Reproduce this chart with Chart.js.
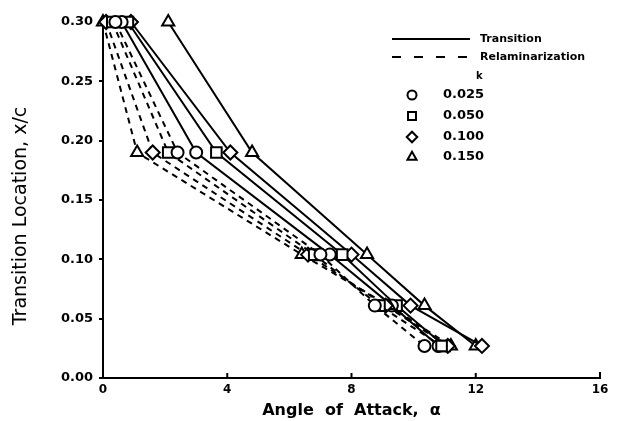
<!DOCTYPE html>
<html>
<head>
<meta charset="utf-8">
<script src="https://cdn.jsdelivr.net/npm/chart.js@4"></script>
<style>
  html, body { margin: 0; padding: 0; background: #fff; }
  #wrap { width: 619px; height: 421px; }
</style>
</head>
<body>
<div id="wrap"><canvas id="chart" width="619" height="421"></canvas></div>
<script>
// ── DATA ──
// sensor positions (x/c) where transition / relaminarization was picked up
const yLevels = [0.30, 0.19, 0.104, 0.061, 0.027];

// angle of attack per level, transition (solid)
const transK025 = [0.6, 3.0, 7.3, 9.3, 10.8];
const transK050 = [0.8, 3.65, 7.7, 9.45, 11.0];
const transK100 = [0.9, 4.1, 8.0, 9.9, 12.2];
const transK150 = [2.1, 4.8, 8.5, 10.35, 12.0];

// relaminarization (dashed)
const relamK025 = [0.4, 2.4, 7.0, 8.75, 10.35];
const relamK050 = [0.3, 2.1, 6.8, 8.9, 10.9];
const relamK100 = [0.1, 1.6, 6.6, 9.1, 11.1];
const relamK150 = [0.0, 1.1, 6.4, 9.2, 11.2];

const kLabels = ['0.025', '0.050', '0.100', '0.150'];
const xTicks = [0, 4, 8, 12, 16];
const yTicks = [0.00, 0.05, 0.10, 0.15, 0.20, 0.25, 0.30];
const yTitle = 'Transition Location, x/c';

// ── STYLE ──
const MARKERS = [
  { style: 'circle',  radius: 6 },
  { style: 'rect',    radius: 7.5 },
  { style: 'rectRot', radius: 7 },
  { style: 'triangle', radius: 7 }
];
const FONT = "'DejaVu Sans', sans-serif";

function pts(xs) { return xs.map((x, i) => ({ x: x, y: yLevels[i] })); }

function series(label, xs, m, dashed) {
  return {
    label: label, data: pts(xs), showLine: true,
    borderColor: '#000', borderWidth: 2, borderDash: dashed ? [6, 5] : [],
    pointStyle: m.style, pointRadius: m.radius, pointHoverRadius: m.radius,
    pointBorderWidth: 2, pointBorderColor: '#000', pointBackgroundColor: '#fff',
    clip: false, tension: 0
  };
}

const datasets = [
  series('Relam 0.025', relamK025, MARKERS[0], true),
  series('Relam 0.050', relamK050, MARKERS[1], true),
  series('Relam 0.100', relamK100, MARKERS[2], true),
  series('Relam 0.150', relamK150, MARKERS[3], true),
  series('Trans 0.025', transK025, MARKERS[0], false),
  series('Trans 0.050', transK050, MARKERS[1], false),
  series('Trans 0.100', transK100, MARKERS[2], false),
  series('Trans 0.150', transK150, MARKERS[3], false)
];

// ── inward x ticks + y title ──
const axisExtras = {
  id: 'axisExtras',
  afterDraw(chart) {
    const ctx = chart.ctx, xs = chart.scales.x, bottom = chart.chartArea.bottom;
    ctx.save();
    ctx.strokeStyle = '#000'; ctx.lineWidth = 2;
    xTicks.forEach(v => {
      if (v === 0 || v === 16) return;
      const px = xs.getPixelForValue(v);
      ctx.beginPath(); ctx.moveTo(px, bottom); ctx.lineTo(px, bottom - 5); ctx.stroke();
    });
    // small upturn at the right end of the axis
    const pr = xs.getPixelForValue(16);
    ctx.beginPath(); ctx.moveTo(pr, bottom); ctx.lineTo(pr, bottom - 6); ctx.stroke();

    // y title sits a bit below the middle of the axis in the original
    ctx.translate(21, 216);
    ctx.rotate(-Math.PI / 2);
    ctx.fillStyle = '#000';
    ctx.font = '19px ' + FONT;
    ctx.textAlign = 'center'; ctx.textBaseline = 'middle';
    ctx.fillText(yTitle, 0, 0);
    ctx.restore();
  }
};

// ── legend (line types + k markers) ──
const legendPlugin = {
  id: 'customLegend',
  afterDraw(chart) {
    const ctx = chart.ctx;
    ctx.save();
    ctx.strokeStyle = '#000'; ctx.fillStyle = '#000'; ctx.lineWidth = 2;
    ctx.beginPath(); ctx.moveTo(392, 39); ctx.lineTo(470, 39); ctx.stroke();
    ctx.setLineDash([9, 13]);
    ctx.beginPath(); ctx.moveTo(392, 57); ctx.lineTo(472, 57); ctx.stroke();
    ctx.setLineDash([]);

    ctx.font = 'bold 11px ' + FONT;
    ctx.textAlign = 'left'; ctx.textBaseline = 'middle';
    ctx.fillText('Transition', 480, 39);
    ctx.fillText('Relaminarization', 480, 57);
    ctx.font = 'bold 10px ' + FONT;
    ctx.fillText('k', 476, 76);

    const rows = [95, 116, 137, 157];
    ctx.font = 'bold 13px ' + FONT;
    kLabels.forEach((lab, i) => {
      ctx.fillStyle = '#fff';
      ctx.lineWidth = 2;
      Chart.helpers.drawPoint(ctx, { pointStyle: MARKERS[i].style, radius: MARKERS[i].radius * 0.75, rotation: 0, borderWidth: 2 }, 412, rows[i]);
      ctx.fillStyle = '#000';
      ctx.fillText(lab, 443, rows[i]);
    });
    ctx.restore();
  }
};

new Chart(document.getElementById('chart'), {
  type: 'scatter',
  data: { datasets: datasets },
  options: {
    responsive: false, animation: false,
    layout: { padding: { top: 22, right: 19, left: 0, bottom: 0 } },
    plugins: { legend: { display: false }, tooltip: { enabled: false } },
    scales: {
      x: {
        type: 'linear', min: 0, max: 16,
        afterBuildTicks: s => { s.ticks = xTicks.map(v => ({ value: v })); },
        afterFit: s => { s.height = 43; },
        grid: { drawOnChartArea: false, drawTicks: false },
        border: { display: true, color: '#000', width: 2 },
        ticks: { color: '#000', padding: 5, font: { family: FONT, size: 12, weight: 'bold' }, callback: v => String(v) },
        title: { display: true, text: 'Angle  of  Attack,  α', color: '#000',
                 font: { family: FONT, size: 16, weight: 'bold' }, padding: { top: 0, bottom: 1 } }
      },
      y: {
        type: 'linear', min: 0, max: 0.30,
        afterBuildTicks: s => { s.ticks = yTicks.map(v => ({ value: v })); },
        afterFit: s => { s.width = 103; },
        grid: { drawOnChartArea: false, drawTicks: true, tickLength: 4, color: '#000', lineWidth: 2 },
        border: { display: true, color: '#000', width: 2 },
        ticks: { color: '#000', padding: 6, font: { family: FONT, size: 13, weight: 'bold' }, callback: v => v.toFixed(2) },
        title: { display: false }
      }
    }
  },
  plugins: [axisExtras, legendPlugin]
});
</script>
</body>
</html>
